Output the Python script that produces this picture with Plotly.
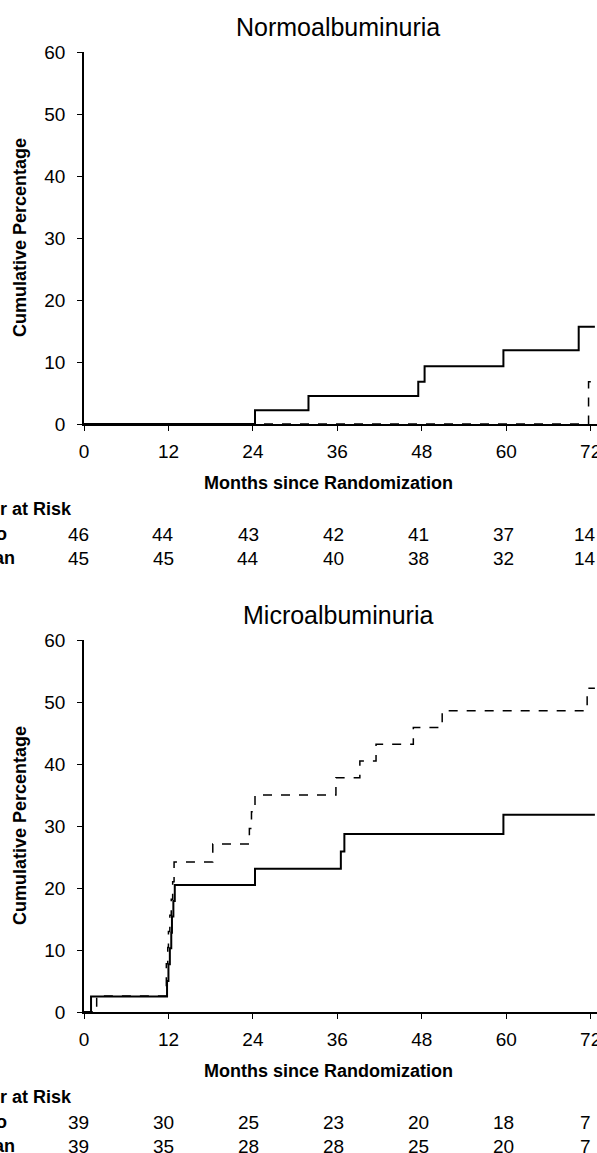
import plotly.graph_objects as go

# Normoalbuminuria
normo_placebo_x = [0, 24.3, 31.9, 47.5, 48.4, 59.6, 70.3, 72.6]
normo_placebo_y = [0, 2.2, 4.5, 6.8, 9.3, 11.9, 15.7, 15.7]
normo_losartan_x = [0, 71.7, 72.6]
normo_losartan_y = [0, 6.8, 6.8]

# Microalbuminuria
micro_placebo_x = [0, 1.0, 11.8, 12.0, 12.2, 12.4, 12.5, 12.7, 12.9, 24.3, 36.5, 37.0, 59.6, 72.6]
micro_placebo_y = [0, 2.5, 5.0, 7.7, 10.3, 12.8, 15.4, 17.9, 20.5, 23.1, 25.9, 28.7, 31.8, 31.8]
micro_losartan_x = [0, 1.8, 11.7, 11.9, 12.0, 12.2, 12.4, 12.6, 12.8, 18.3, 23.5, 23.8, 24.3,
                    35.8, 39.2, 41.5, 46.8, 50.9, 71.5, 72.6]
micro_losartan_y = [0, 2.6, 7.8, 10.4, 13.0, 15.6, 18.2, 21.0, 24.2, 27.1, 29.6, 32.3, 35.0,
                    37.8, 40.5, 43.2, 45.9, 48.6, 52.2, 52.2]

risk_months = [0, 12, 24, 36, 48, 60, 72]
normo_risk_placebo = [46, 44, 43, 42, 41, 37, 14]
normo_risk_losartan = [45, 45, 44, 40, 38, 32, 14]
micro_risk_placebo = [39, 30, 25, 23, 20, 18, 7]
micro_risk_losartan = [39, 35, 28, 28, 25, 20, 7]

W, H = 597, 1153
L = 84
PW = W - L
FONT = "Liberation Sans, Arial, sans-serif"

def px(x):
    return (x - L) / PW

def py(y):
    return 1 - y / H

fig = go.Figure()
panels = [
    ("Normoalbuminuria", normo_placebo_x, normo_placebo_y, normo_losartan_x, normo_losartan_y,
     normo_risk_placebo, normo_risk_losartan, 0),
    ("Microalbuminuria", micro_placebo_x, micro_placebo_y, micro_losartan_x, micro_losartan_y,
     micro_risk_placebo, micro_risk_losartan, 588),
]
ann = []
layout = {}
for i, (title, px_, py_, lx, ly, rp, rl, off) in enumerate(panels):
    ax = "" if i == 0 else "2"
    top, bot = 52 + off, 424 + off
    fig.add_trace(go.Scatter(x=px_, y=py_, mode="lines", line=dict(color="black", width=2, shape="hv"),
                             xaxis="x" + ax, yaxis="y" + ax, showlegend=False, cliponaxis=False))
    fig.add_trace(go.Scatter(x=lx, y=ly, mode="lines", line=dict(color="black", width=1.5, shape="hv", dash="dash"),
                             xaxis="x" + ax, yaxis="y" + ax, showlegend=False, cliponaxis=False))
    layout["xaxis" + ax] = dict(domain=[0, 1], anchor="y" + ax, range=[0, 72.9], tickvals=risk_months,
                                automargin=False, ticklabeloverflow="allow",
                                showgrid=False, zeroline=False, showline=True, linecolor="black", linewidth=1.5,
                                ticks="outside", ticklen=5, tickcolor="black", ticklabelstandoff=4,
                                tickfont=dict(size=19, color="black"))
    layout["yaxis" + ax] = dict(domain=[py(bot), py(top)], anchor="x" + ax, range=[0, 60], dtick=10,
                                automargin=False,
                                showgrid=False, zeroline=False, showline=True, linecolor="black", linewidth=1.5,
                                ticks="outside", ticklen=5, tickcolor="black", ticklabelstandoff=8,
                                tickfont=dict(size=19, color="black"))
    ann.append(dict(text=title, x=px(338), y=py(27 + off), xref="paper", yref="paper", showarrow=False,
                    font=dict(size=25, color="black"), xanchor="center", yanchor="middle"))
    ann.append(dict(text="<b>Months since Randomization</b>", x=px(328), y=py(483 + off), xref="paper",
                    yref="paper", showarrow=False, font=dict(size=18, color="black"),
                    xanchor="center", yanchor="middle"))
    ann.append(dict(text="<b>Cumulative Percentage</b>", x=px(20), y=py((top + bot) / 2), xref="paper",
                    yref="paper", showarrow=False, font=dict(size=18, color="black"), textangle=-90,
                    xanchor="center", yanchor="middle"))
    ann.append(dict(text="<b>Number at Risk</b>", x=px(74), y=py(509 + off), xref="paper", yref="paper",
                    showarrow=False, font=dict(size=18, color="black"), xanchor="right", yanchor="middle"))
    for lab, row, yy, xe in [("Placebo", rp, 534, 9), ("Losartan", rl, 558, 17)]:
        ann.append(dict(text="<b>%s</b>" % lab, x=px(xe), y=py(yy + off), xref="paper", yref="paper",
                        showarrow=False, font=dict(size=18, color="black"), xanchor="right", yanchor="middle"))
        for m, v in zip(risk_months, row):
            xp = 78 + m / 12 * 85 if m < 72 else 585
            ann.append(dict(text=str(v), x=px(xp), y=py(yy + off), xref="paper", yref="paper",
                            showarrow=False, font=dict(size=19, color="black"), xanchor="center", yanchor="middle"))

fig.update_layout(width=W, height=H, margin=dict(l=L, r=0, t=0, b=0), plot_bgcolor="white",
                  paper_bgcolor="white", font=dict(family=FONT, color="black"), annotations=ann, **layout)
fig.write_html("out.html", config={"displayModeBar": False}, post_script="document.body.style.margin='0';")
